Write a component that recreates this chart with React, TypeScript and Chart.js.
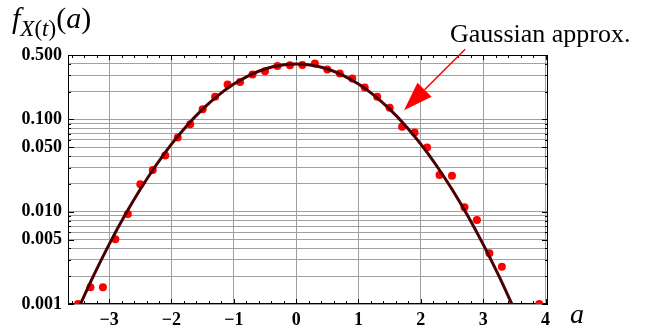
import React, { useEffect, useRef } from "react";
import { Chart, registerables } from "chart.js";

Chart.register(...registerables);

// Sampled data points (red dots)
const pointX = [
  -3.5, -3.3, -3.1, -2.9, -2.7, -2.5, -2.3, -2.1, -1.9, -1.7,
  -1.5, -1.3, -1.1, -0.9, -0.7, -0.5, -0.3, -0.1, 0.1, 0.3,
  0.5, 0.7, 0.9, 1.1, 1.3, 1.5, 1.7, 1.9, 2.1, 2.3,
  2.5, 2.7, 2.9, 3.1, 3.3, 3.9,
];
const pointY = [
  0.001, 0.00152, 0.00152, 0.00503, 0.00944, 0.0198, 0.0283, 0.0408, 0.0638, 0.0889,
  0.129, 0.176, 0.239, 0.255, 0.307, 0.333, 0.38, 0.387, 0.39, 0.404,
  0.348, 0.315, 0.278, 0.222, 0.176, 0.134, 0.0832, 0.0723, 0.0498, 0.025,
  0.0246, 0.01116, 0.00813, 0.00355, 0.00254, 0.001,
];

// Gaussian approximation curve
const curveX = [
  -3.5, -3.25, -3.0, -2.75, -2.5, -2.25, -2.0, -1.75, -1.5, -1.25,
  -1.0, -0.75, -0.5, -0.25, 0, 0.25, 0.5, 0.75, 1.0, 1.25,
  1.5, 1.75, 2.0, 2.25, 2.5, 2.75, 3.0, 3.25, 3.5,
];
const curveY = [
  0.000873, 0.00203, 0.00443, 0.00909, 0.0175, 0.0317, 0.054, 0.0863, 0.1295, 0.1826,
  0.242, 0.3011, 0.3521, 0.3867, 0.3989, 0.3867, 0.3521, 0.3011, 0.242, 0.1826,
  0.1295, 0.0863, 0.054, 0.0317, 0.0175, 0.00909, 0.00443, 0.00203, 0.000873,
];

const xTickValues = [-3, -2, -1, 0, 1, 2, 3, 4];
const yLabelValues = [0.001, 0.005, 0.01, 0.05, 0.1, 0.5];
const yGridValues = [
  0.001, 0.002, 0.003, 0.004, 0.005, 0.006, 0.007, 0.008, 0.009,
  0.01, 0.02, 0.03, 0.04, 0.05, 0.06, 0.07, 0.08, 0.09,
  0.1, 0.2, 0.3, 0.4, 0.5,
];
const xMin = -3.66;
const xMax = 4.04;
const yMin = 0.001;
const yMax = 0.5;

const arrowTail = { x: 2.71, y: 0.577 };
const arrowTip = { x: 1.73, y: 0.126 };

const tickFont = { family: "'Liberation Serif', 'Times New Roman', serif", size: 18, weight: "bold" as const };

const framePlugin = {
  id: "framePlugin",
  beforeDatasetsDraw(chart: any) {
    const { ctx, chartArea: a, scales } = chart;
    const xs = scales.x;
    const ys = scales.y;
    ctx.save();
    ctx.strokeStyle = "#000";
    ctx.lineWidth = 1;
    ctx.strokeRect(a.left + 0.5, a.top + 0.5, a.right - a.left - 1, a.bottom - a.top - 1);
    ctx.beginPath();
    for (let i = -19; i <= 21; i++) {
      const v = i / 5;
      if (v < xMin || v > xMax) continue;
      const px = Math.round(xs.getPixelForValue(v)) + 0.5;
      const len = i % 5 === 0 ? 5 : 3;
      ctx.moveTo(px, a.bottom);
      ctx.lineTo(px, a.bottom - len);
      ctx.moveTo(px, a.top);
      ctx.lineTo(px, a.top + len);
    }
    for (const v of yGridValues) {
      const py = Math.round(ys.getPixelForValue(v)) + 0.5;
      const major = yLabelValues.includes(v);
      const len = major ? 6 : 3;
      ctx.moveTo(a.left, py);
      ctx.lineTo(a.left + len, py);
      ctx.moveTo(a.right, py);
      ctx.lineTo(a.right - len, py);
    }
    ctx.stroke();
    ctx.restore();
  },
};

const arrowPlugin = {
  id: "arrowPlugin",
  afterDatasetsDraw(chart: any) {
    const { ctx, scales } = chart;
    const xs = scales.x;
    const ys = scales.y;
    const tx = xs.getPixelForValue(arrowTail.x);
    const ty = ys.getPixelForValue(arrowTail.y);
    const hx = xs.getPixelForValue(arrowTip.x);
    const hy = ys.getPixelForValue(arrowTip.y);
    const dx = tx - hx;
    const dy = ty - hy;
    const d = Math.hypot(dx, dy);
    const ux = dx / d;
    const uy = dy / d;
    const headLen = 29;
    const halfW = 10;
    const bx = hx + ux * headLen;
    const by = hy + uy * headLen;
    ctx.save();
    ctx.strokeStyle = "#ff0000";
    ctx.fillStyle = "#ff0000";
    ctx.lineWidth = 1.5;
    ctx.beginPath();
    ctx.moveTo(tx, ty);
    ctx.lineTo(bx, by);
    ctx.stroke();
    ctx.beginPath();
    ctx.moveTo(hx, hy);
    ctx.lineTo(bx - uy * halfW, by + ux * halfW);
    ctx.lineTo(bx + uy * halfW, by - ux * halfW);
    ctx.closePath();
    ctx.fill();
    ctx.restore();
  },
};

function fmtY(v: number): string {
  const hit = yLabelValues.find((l) => Math.abs(l - v) / l < 1e-6);
  return hit !== undefined ? hit.toFixed(3) : "";
}

export default function App() {
  const canvasRef = useRef<HTMLCanvasElement | null>(null);

  useEffect(() => {
    const canvas = canvasRef.current;
    if (!canvas) return;
    const chart = new Chart(canvas, {
      type: "line",
      data: {
        datasets: [
          {
            type: "scatter",
            label: "samples",
            data: pointX.map((x, i) => ({ x, y: pointY[i] })),
            backgroundColor: "#ff0000",
            borderColor: "#ff0000",
            pointRadius: 4,
            pointBorderWidth: 0,
            showLine: false,
            order: 1,
          } as any,
          {
            type: "line",
            label: "Gaussian approx.",
            data: curveX.map((x, i) => ({ x, y: curveY[i] })),
            borderColor: "#4a0000",
            borderWidth: 3,
            pointRadius: 0,
            cubicInterpolationMode: "monotone",
            fill: false,
            order: 0,
          } as any,
        ],
      },
      options: {
        animation: false,
        responsive: false,
        devicePixelRatio: 1,
        layout: { padding: { left: 0, top: 55, right: 107, bottom: 0 } },
        plugins: {
          legend: { display: false },
          tooltip: { enabled: false },
        },
        scales: {
          x: {
            type: "linear",
            min: xMin,
            max: xMax,
            afterBuildTicks: (s: any) => {
              s.ticks = xTickValues.map((v) => ({ value: v }));
            },
            afterFit: (s: any) => {
              s.height = 27;
            },
            ticks: {
              autoSkip: false,
              maxRotation: 0,
              padding: 6,
              color: "#000",
              font: tickFont,
              callback: (v: any) => {
                const n = Number(v);
                return n < 0 ? "\u2212" + Math.abs(n) : String(n);
              },
            },
            grid: { color: "#a0a0a0", lineWidth: 1, drawTicks: false },
            border: { display: false },
          },
          y: {
            type: "logarithmic",
            min: yMin,
            max: yMax,
            afterBuildTicks: (s: any) => {
              s.ticks = yGridValues.map((v) => ({ value: v }));
            },
            afterFit: (s: any) => {
              s.width = 68;
            },
            ticks: {
              autoSkip: false,
              padding: 6,
              color: "#000",
              font: tickFont,
              callback: (v: any) => fmtY(Number(v)),
            },
            grid: { color: "#a0a0a0", lineWidth: 1, drawTicks: false },
            border: { display: false },
          },
        },
      },
      plugins: [framePlugin, arrowPlugin],
    } as any);
    return () => chart.destroy();
  }, []);

  const serif = "'Liberation Serif', 'Times New Roman', serif";

  return (
    <div
      style={{
        position: "fixed",
        left: 0,
        top: 0,
        width: 655,
        height: 331,
        background: "#fff",
        overflow: "hidden",
      }}
    >
      <canvas ref={canvasRef} width={655} height={331} style={{ position: "absolute", left: 0, top: 0 }} />
      <div
        style={{
          position: "absolute",
          left: 12,
          top: 3,
          fontFamily: serif,
          fontSize: 30,
          lineHeight: 1,
          color: "#000",
          whiteSpace: "nowrap",
        }}
      >
        <span style={{ fontStyle: "italic" }}>f</span>
        <span style={{ fontSize: 23, position: "relative", top: 8 }}>
          <span style={{ fontStyle: "italic" }}>X</span>(<span style={{ fontStyle: "italic" }}>t</span>)
        </span>
        <span>(</span>
        <span style={{ fontStyle: "italic" }}>a</span>
        <span>)</span>
      </div>
      <div
        style={{
          position: "absolute",
          left: 450,
          top: 21,
          fontFamily: serif,
          fontSize: 26,
          lineHeight: 1,
          color: "#000",
          whiteSpace: "nowrap",
        }}
      >
        Gaussian approx.
      </div>
      <div
        style={{
          position: "absolute",
          left: 570,
          top: 300,
          fontFamily: serif,
          fontSize: 28,
          fontStyle: "italic",
          lineHeight: 1,
          color: "#000",
        }}
      >
        a
      </div>
    </div>
  );
}
